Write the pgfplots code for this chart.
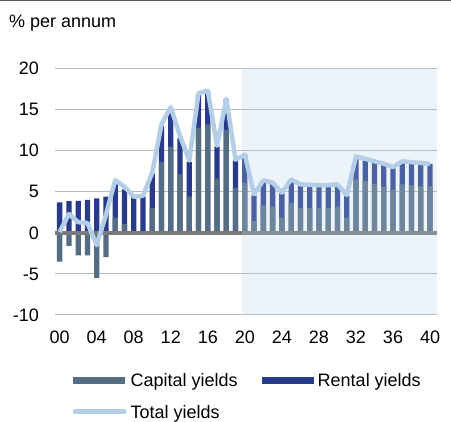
\documentclass[border=0pt]{standalone}
\usepackage{fontspec}
\setmainfont{Liberation Sans}
\usepackage{pgfplots}
\usepackage{pgfplotstable}
\pgfplotsset{compat=1.18}
\definecolor{capcol}{HTML}{556D83}
\definecolor{rentcol}{HTML}{283B8B}
\definecolor{totcol}{HTML}{B4CEE8}
\definecolor{shadecol}{RGB}{182,212,230}
\definecolor{gridcol}{HTML}{BABABA}
\definecolor{zerocol}{HTML}{7A7A7A}

\pgfplotstableread{
x cap rent tot
0 -3.5 3.7 0.1
1 -1.6 3.85 2.3
2 -2.75 3.9 1.3
3 -2.75 4.0 1.2
4 -5.5 4.2 -1.5
5 -2.95 4.4 2.2
6 1.85 4.15 6.4
7 1.1 4.2 5.6
8 0.0 4.4 4.4
9 0.1 4.3 4.5
10 3.0 4.2 7.3
11 8.6 4.4 13.2
12 10.5 4.5 15.3
13 7.1 4.4 11.8
14 4.45 4.2 8.8
15 12.8 4.0 17.0
16 13.2 4.0 17.3
17 6.6 3.9 10.6
18 12.5 3.8 16.3
19 5.5 3.3 8.9
20 6.1 3.35 9.5
21 1.45 3.1 4.7
22 3.35 2.9 6.4
23 3.2 2.8 6.1
24 1.85 2.95 4.9
25 3.65 2.7 6.5
26 3.0 2.8 5.9
27 3.05 2.7 5.85
28 3.05 2.65 5.8
29 3.05 2.65 5.8
30 3.2 2.5 5.9
31 1.85 2.65 4.6
32 6.5 2.6 9.3
33 6.3 2.5 9.0
34 6.0 2.55 8.7
35 5.6 2.7 8.4
36 5.25 2.7 8.0
37 5.9 2.7 8.7
38 5.8 2.7 8.6
39 5.65 2.8 8.5
40 5.65 2.75 8.4
}\data

\begin{document}
\begin{tikzpicture}[x=1pt,y=1pt,font=\fontsize{18}{21}\selectfont]
\useasboundingbox (0,0) rectangle (451,422);
\draw[line width=1.2pt, black!65] (0,421.4) -- (451,421.4);
\node[anchor=base west, inner sep=0pt] at (9,394) {\% per annum};
\begin{axis}[
  at={(55pt,107pt)}, anchor=south west,
  scale only axis, width=382pt, height=246.5pt,
  xmin=-0.5, xmax=40.75, ymin=-10, ymax=20,
  axis line style={draw=none}, major tick length=0pt,
  xtick={0,4,...,40},
  xticklabels={00,04,08,12,16,20,24,28,32,36,40},
  ytick={-10,-5,...,20},
  ymajorgrids, grid style={gridcol, line width=1pt},
  xticklabel style={anchor=north, inner sep=0pt, yshift=-16pt},
  yticklabel style={anchor=east, inner sep=0pt, xshift=-16pt},
  /pgf/number format/assume math mode=true,
  tick label style={font=\fontsize{18}{21}\selectfont},
  ybar, bar shift=0pt, bar width=0.57,
  clip=false,
  legend columns=2,
  legend style={at={(rel axis cs:0.0463,-0.2377)}, anchor=north west,
    draw=none, fill=none, inner sep=0pt, outer sep=0pt,
    row sep=17pt, font=\fontsize{18}{21}\selectfont,
    nodes={inner sep=0pt, anchor=base west},
    /tikz/every odd column/.append style={column sep=4pt},
    /tikz/every even column/.append style={column sep=24pt}},
]
\addplot[fill=rentcol, draw=none, forget plot]
  table[x=x, y expr={max(\thisrow{cap},0)+\thisrow{rent}}]{\data};
\addplot[fill=capcol, draw=none, forget plot] table[x=x, y=cap]{\data};
\draw[zerocol, line width=4.5pt] (axis cs:-0.5,0) -- (axis cs:40.75,0);
\fill[shadecol, opacity=0.25] (axis cs:19.65,-10) rectangle (axis cs:40.75,20);
\addplot[sharp plot, totcol, line width=4.5pt, line join=round, forget plot]
  table[x=x, y=tot]{\data};

\addlegendimage{legend image code/.code={\fill[capcol, draw=none] (0pt,2.9pt) rectangle (52pt,9.9pt);}}
\addlegendentry{Capital yields}
\addlegendimage{legend image code/.code={\fill[rentcol, draw=none] (0pt,2.9pt) rectangle (52pt,9.9pt);}}
\addlegendentry{Rental yields}
\addlegendimage{legend image code/.code={\draw[totcol, fill=none, line width=5pt, line cap=round] (2.5pt,6.4pt) -- (51.5pt,6.4pt);}}
\addlegendentry{Total yields}
\end{axis}
\end{tikzpicture}
\end{document}
